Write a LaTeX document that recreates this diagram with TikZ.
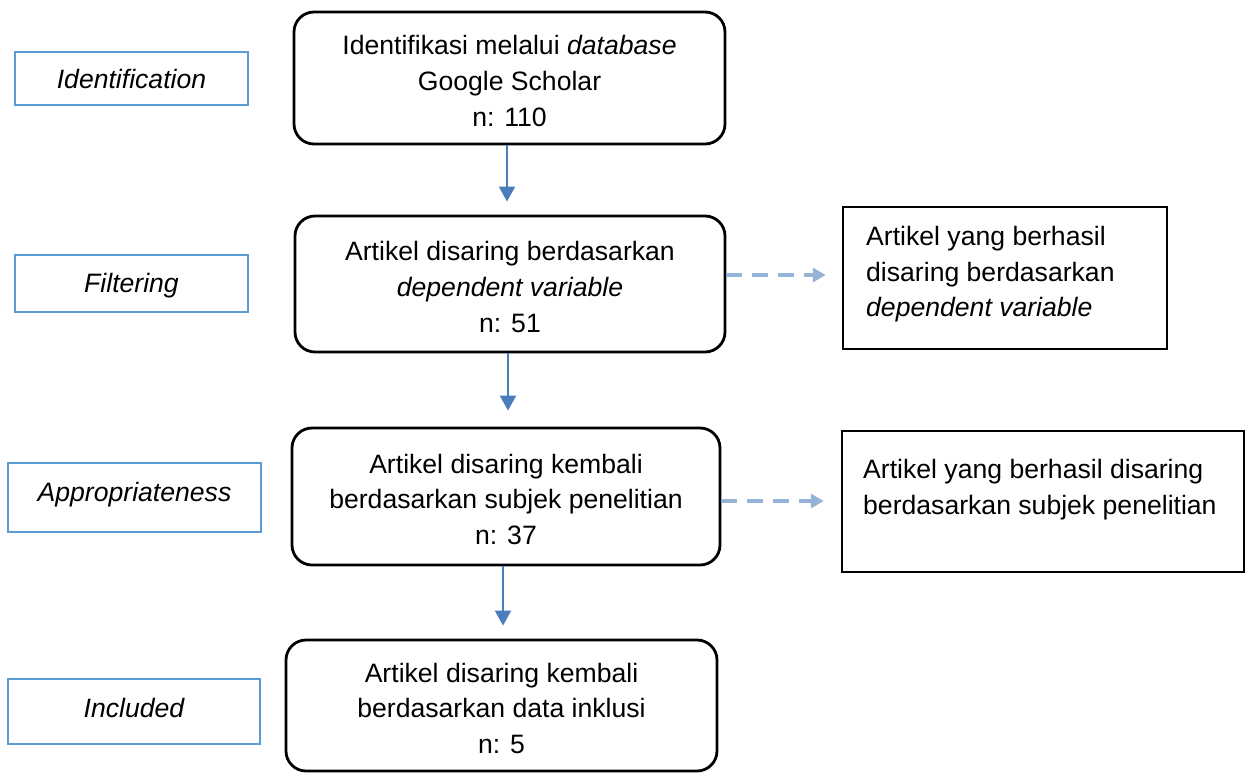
\documentclass[tikz,border=0pt]{standalone}
\usepackage{fontspec}
\setmainfont{Liberation Sans}
\usetikzlibrary{arrows.meta,calc}
\definecolor{stageblue}{RGB}{91,155,213}
\definecolor{arrowblue}{RGB}{74,126,187}
\definecolor{dashblue}{RGB}{149,179,215}
\newcommand\tstrutx{\rule{0pt}{25pt}}
\begin{document}
\begin{tikzpicture}[x=1pt,y=-1pt,
  every node/.style={font=\fontsize{26.6}{35.7}\selectfont, inner sep=0pt},
  stagebox/.style={draw=stageblue, line width=2.5pt, font=\fontsize{26.6}{35.7}\selectfont\itshape},
  mainbox/.style={draw=black, line width=2.8pt, rounded corners=20pt, align=center},
  sidebox/.style={draw=black, line width=2.5pt},
  sidetext/.style={anchor=north west, align=left},
  solidarrow/.style={draw=arrowblue, line width=2pt, -{Triangle[length=15pt,width=16pt]}},
  dasharrow/.style={draw=dashblue, line width=4pt, dash pattern=on 16pt off 10pt, -{Triangle[length=13pt,width=14pt]}}
]
\useasboundingbox (0,0) rectangle (1251,772);

% stage labels
\node[stagebox, minimum width=233pt, minimum height=53pt] (s1) at (131.5,78.5) {Identification};
\node[stagebox, minimum width=233pt, minimum height=57pt, text depth=2pt] (s2) at (131.5,283.5) {Filtering};
\node[stagebox, minimum width=253pt, minimum height=69pt, text depth=12pt] (s3) at (134.5,497.5) {Appropriateness};
\node[stagebox, minimum width=252pt, minimum height=65pt, text depth=8pt] (s4) at (134,711.5) {Included};

% main flow
\node[mainbox, minimum width=431pt, minimum height=132pt] (b1) at (509.5,78)
  {\tstrutx Identifikasi melalui \textit{database}\\Google Scholar\\n: 110};
\node[mainbox, minimum width=430pt, minimum height=136pt] (b2) at (510,284)
  {\tstrutx Artikel disaring berdasarkan\\\textit{dependent variable}\\n: 51};
\node[mainbox, minimum width=428pt, minimum height=137pt] (b3) at (506,496.5)
  {\tstrutx Artikel disaring kembali\\berdasarkan subjek penelitian\\n: 37};
\node[mainbox, minimum width=431pt, minimum height=131pt] (b4) at (501.5,705.5)
  {\tstrutx Artikel disaring kembali\\berdasarkan data inklusi\\n: 5};

% side boxes
\node[sidebox, minimum width=324pt, minimum height=142pt] (r1) at (1005,278) {};
\node[sidetext] (t1) at (866,226) {Artikel yang berhasil\\disaring berdasarkan\\\textit{dependent variable}};
\node[sidebox, minimum width=402pt, minimum height=141pt] (r2) at (1043,501.5) {};
\node[sidetext] (t2) at (863,459) {Artikel yang berhasil disaring\\berdasarkan subjek penelitian};

% solid arrows
\draw[solidarrow, shorten >=13pt] ([xshift=-2.5pt]b1.south) -- ([xshift=-2.5pt]b1.south |- b2.north);
\draw[solidarrow, shorten >=16pt] ([xshift=-2pt]b2.south) -- ([xshift=-2pt]b2.south |- b3.north);
\draw[solidarrow, shorten >=13pt] ([xshift=-3pt]b3.south) -- ([xshift=-3pt]b3.south |- b4.north);

% dashed arrows
\coordinate (d1) at (0,275);
\coordinate (d2) at (0,501);
\draw[dasharrow, shorten >=16pt] (b2.east |- d1) -- (r1.west |- d1);
\draw[dasharrow, shorten >=17pt] (b3.east |- d2) -- (r2.west |- d2);
\end{tikzpicture}
\end{document}
